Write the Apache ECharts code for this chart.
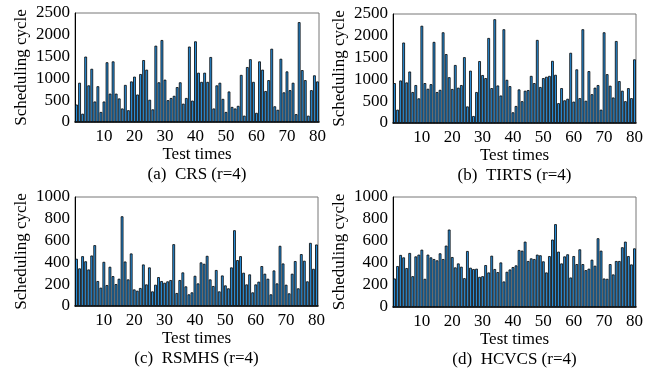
<!DOCTYPE html>
<html>
<head>
<meta charset="utf-8">
<script src="https://cdn.jsdelivr.net/npm/echarts@6/dist/echarts.min.js"></script>
<style>
html,body{margin:0;padding:0;background:#fff;}
#c{width:671px;height:371px;}
</style>
</head>
<body>
<div id="c"></div>
<script>
var testTimes = [];
for (var i = 1; i <= 80; i++) testTimes.push(String(i));

var crsData = [400,900,190,1500,840,1220,470,820,230,470,1370,650,1390,650,540,310,850,270,930,1040,
  630,1100,1420,1200,510,290,1750,910,1880,970,500,550,600,800,910,420,550,1730,490,1850,
  1130,920,1130,920,1490,310,840,900,530,230,700,345,310,370,1080,145,1260,1440,920,210,
  1390,1200,710,960,1680,360,280,1450,680,1160,730,900,180,2290,1190,960,145,730,1070,930];

var tirtsData = [915,305,975,1845,930,1180,710,870,565,2230,915,785,890,1860,710,760,2080,1580,1050,780,
  1330,810,870,1510,380,1200,160,710,1420,1100,1030,1950,800,2380,860,630,2150,990,845,245,
  390,770,500,740,755,1080,915,1905,825,1030,1060,1080,1425,1105,455,800,520,555,1610,490,
  1230,570,2150,510,1190,660,810,870,305,2080,1120,855,585,1880,960,740,500,800,570,1460];

var rsmhsData = [433,345,457,410,335,463,558,229,168,405,192,360,274,201,250,823,408,244,482,152,
  140,165,381,198,354,134,195,265,229,213,226,238,567,119,238,308,180,107,125,277,
  207,400,387,460,244,183,330,134,280,189,162,354,695,421,457,305,198,290,125,198,
  223,366,296,250,107,326,207,552,390,195,116,296,412,162,476,415,226,579,341,564];

var hcvcsData = [259,372,473,451,354,491,280,460,476,521,256,476,451,436,424,488,436,558,704,454,
  360,396,366,262,509,357,345,348,274,280,381,314,466,345,317,405,232,320,341,363,
  378,518,512,594,418,442,436,476,470,415,314,463,613,753,503,396,460,479,268,463,
  390,524,390,335,348,430,375,625,512,259,256,390,296,418,418,543,594,463,387,533];

var yMaxTop = 2500, yIntTop = 500;
var yMaxBottom = 1000, yIntBottom = 200;
var subtitles = ['(a)  CRS (r=4)', '(b)  TIRTS (r=4)', '(c)  RSMHS (r=4)', '(d)  HCVCS (r=4)'];
var seriesList = [crsData, tirtsData, rsmhsData, hcvcsData];

var FONT = '"Liberation Serif", "Times New Roman", serif';
var FS = 17;

var grids = [
  {left: 75, top: 13, width: 244, height: 109},
  {left: 393, top: 14, width: 243, height: 109},
  {left: 75, top: 197, width: 243, height: 109},
  {left: 393, top: 197, width: 243, height: 110}
];

var option = {
  animation: false,
  backgroundColor: '#fff',
  grid: grids.map(function (g) {
    return {left: g.left, top: g.top, width: g.width, height: g.height, show: true,
      borderColor: '#777', borderWidth: 1, backgroundColor: 'transparent', containLabel: false};
  }),
  xAxis: grids.map(function (g, k) {
    return {
      type: 'category', gridIndex: k, data: testTimes,
      name: 'Test times', nameLocation: 'middle', nameGap: 22,
      nameTextStyle: {fontFamily: FONT, fontSize: FS, color: '#000'},
      axisLine: {show: true, lineStyle: {color: '#000', width: 1.5}},
      axisTick: {show: false},
      axisLabel: {
        interval: function (idx, val) { return (idx + 1) % 10 === 0; },
        fontFamily: FONT, fontSize: FS, color: '#000', margin: 6
      },
      splitLine: {show: false}
    };
  }),
  yAxis: grids.map(function (g, k) {
    var top = k < 2;
    return {
      type: 'value', gridIndex: k, min: 0,
      max: top ? yMaxTop : yMaxBottom,
      interval: top ? yIntTop : yIntBottom,
      name: 'Scheduling cycle', nameLocation: 'middle', nameGap: 45,
      nameTextStyle: {fontFamily: FONT, fontSize: FS, color: '#000'},
      axisLine: {show: true, lineStyle: {color: '#000', width: 1}},
      axisTick: {show: false},
      axisLabel: {fontFamily: FONT, fontSize: FS, color: '#000', margin: 5,
        formatter: function (v) { return String(v); }},
      splitLine: {show: false}
    };
  }),
  series: seriesList.map(function (d, k) {
    return {
      type: 'bar', xAxisIndex: k, yAxisIndex: k, data: d,
      barCategoryGap: '10%',
      itemStyle: {color: '#2b93e0', borderColor: '#000', borderWidth: 0.8}
    };
  }),
  graphic: grids.map(function (g, k) {
    return {
      type: 'text',
      x: g.left + g.width / 2,
      y: g.top + g.height + 53,
      style: {text: subtitles[k], textAlign: 'center', textVerticalAlign: 'middle',
        font: FS + 'px ' + FONT, fill: '#000'}
    };
  })
};

var chart = echarts.init(document.getElementById('c'), null, {renderer: 'canvas'});
chart.setOption(option);
</script>
</body>
</html>
